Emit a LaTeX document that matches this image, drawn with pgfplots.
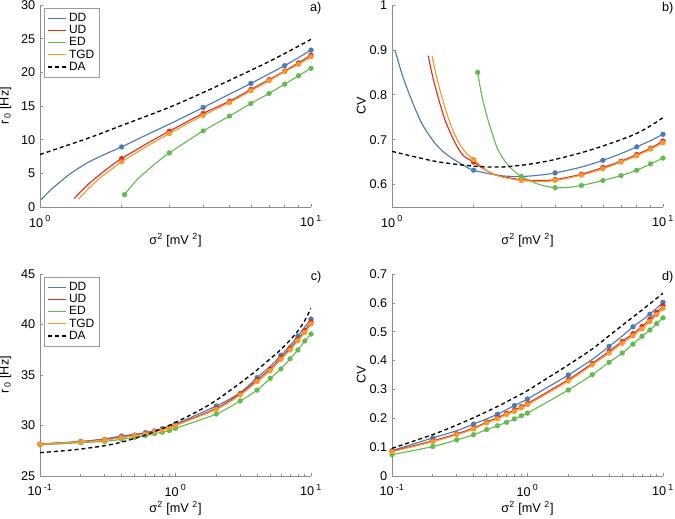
\documentclass[border=0pt]{standalone}
\usepackage{fontspec}
\setmainfont{Liberation Sans}
\usepackage{pgfplots}
\pgfplotsset{compat=1.18}
\definecolor{cDD}{RGB}{74,123,180}
\definecolor{cUD}{RGB}{222,45,38}
\definecolor{cED}{RGB}{99,187,80}
\definecolor{cTGD}{RGB}{247,152,40}
\pgfplotsset{
  every axis/.append style={
    scale only axis, width=203.25pt, height=151.5pt,
    xmode=log, axis x line=bottom, axis y line=left,
    axis line style={-, draw=black!45, line width=0.6pt},
    tick style={draw=black!45, line width=0.5pt},
    tick align=inside, major tick length=2.5pt, minor tick length=1.5pt,
    /pgf/number format/assume math mode=true,
    ticklabel style={font=\fontsize{9.5}{11}\selectfont, text=black},
    xticklabel style={yshift=-3pt},
    label style={font=\fontsize{9.5}{11}\selectfont},
    xlabel={σ\textsuperscript{2} [mV \textsuperscript{2}]},
    clip mode=individual,
    legend cell align=left,
    legend style={at={(0.015,0.985)}, anchor=north west,
      draw=black!40, line width=0.5pt, font=\fontsize{9}{10}\selectfont, inner sep=2pt,
      row sep=-2.7pt},
  },
  legend image code/.code={\draw[#1] (0pt,0pt) -- (13.5pt,0pt);},
  myln/.style={smooth, tension=0.5, line width=0.85pt, color=#1, mark=none},
  mymk/.style={only marks, mark=*, mark size=1.75pt, color=#1, mark options={solid, fill=#1, draw=#1}},
  myda/.style={smooth, tension=0.5, line width=1pt, black, dash pattern=on 3pt off 2.2pt, mark=none},
}
\newcommand{\plab}[1]{\node[anchor=north east, inner sep=0pt, font=\fontsize{9.5}{11}\selectfont, xshift=8pt, yshift=2pt] at (rel axis cs:1,1) {#1};}
\begin{document}
\begin{tikzpicture}
\useasboundingbox (-30pt,-233.25pt) rectangle (476.25pt,155.25pt);
% ---------------- a) ----------------
\begin{axis}[at={(0pt,0pt)}, anchor=south west,
  xmin=1, xmax=10, ymin=0, ymax=30, ytick={0,5,...,30},
  xtick={1,10}, xticklabels={10\,\textsuperscript{0},10\,\textsuperscript{1}},
  minor xtick={2,3,4,5,6,7,8,9},
  ylabel={r\,\textsubscript{0} [Hz]},
  xlabel style={at={(axis description cs:0.5,-0.165)}, anchor=center},
  ylabel style={at={(axis description cs:-0.128,0.5)}, anchor=center}]
\addlegendimage{color=cDD, line width=0.9pt, mark=none}
\addlegendimage{color=cUD, line width=0.9pt, mark=none}
\addlegendimage{color=cED, line width=0.9pt, mark=none}
\addlegendimage{color=cTGD, line width=0.9pt, mark=none}
\addlegendimage{color=black, line width=1pt, dash pattern=on 3pt off 2.2pt, mark=none}
\legend{DD,UD,ED,TGD,DA}
\addplot[myln=cDD, forget plot] coordinates {(1.01,1.1) (1.05,1.8) (1.1,2.6) (1.2,3.9) (1.3,5.0) (1.5,6.6) (1.75,7.9) (2,8.92) (2.5,10.8) (3,12.3) (4,14.78) (5,16.75) (6,18.35) (7,19.77) (8,21.0) (9,22.2) (10,23.3)};
\addplot[mymk=cDD, forget plot] coordinates {(2,8.92) (4,14.78) (6,18.35) (8,21.0) (10,23.3)};
\addplot[myln=cUD, forget plot] coordinates {(1.335,1.24) (1.4,2.1) (1.5,3.3) (1.65,4.7) (1.8,5.9) (2,7.19) (2.5,9.5) (3,11.25) (4,13.9) (5,15.7) (6,17.45) (7,18.9) (8,20.2) (9,21.4) (10,22.55)};
\addplot[mymk=cUD, forget plot] coordinates {(2,7.19) (3,11.25) (4,13.9) (5,15.7) (6,17.45) (7,18.9) (8,20.2) (9,21.4) (10,22.55)};
\addplot[myln=cED, forget plot] coordinates {(2.05,1.83) (2.15,2.9) (2.3,4.2) (2.5,5.5) (2.75,6.9) (3,8.03) (3.5,9.8) (4,11.3) (5,13.5) (6,15.37) (7,16.86) (8,18.25) (9,19.5) (10,20.6)};
\addplot[mymk=cED, forget plot] coordinates {(2.05,1.83) (3,8.03) (4,11.3) (5,13.5) (6,15.37) (7,16.86) (8,18.25) (9,19.5) (10,20.6)};
\addplot[myln=cTGD, forget plot] coordinates {(1.386,1.14) (1.45,2.0) (1.55,3.2) (1.7,4.6) (1.85,5.7) (2,6.7) (2.5,9.1) (3,10.9) (4,13.6) (5,15.5) (6,17.25) (7,18.75) (8,20.1) (9,21.2) (10,22.3)};
\addplot[mymk=cTGD, forget plot] coordinates {(2,6.7) (3,10.9) (4,13.6) (5,15.5) (6,17.25) (7,18.75) (8,20.1) (9,21.2) (10,22.3)};
\addplot[myda, forget plot] coordinates {(1,7.8) (1.5,10.2) (2,12.1) (3,14.8) (4,17.0) (5,18.8) (6,20.3) (7,21.6) (8,22.8) (9,23.9) (10,24.9)};
\plab{a)}
\end{axis}
% ---------------- b) ----------------
\begin{axis}[at={(264pt,0pt)}, anchor=south west,
  xmin=1, xmax=10, ymin=0.55, ymax=1, ytick={0.6,0.7,0.8,0.9,1},
  xtick={1,10}, xticklabels={10\,\textsuperscript{0},10\,\textsuperscript{1}},
  minor xtick={2,3,4,5,6,7,8,9},
  ylabel={CV},
  xlabel style={at={(axis description cs:0.5,-0.165)}, anchor=center},
  ylabel style={at={(axis description cs:-0.113,0.5)}, anchor=center}]
\addplot[myln=cDD] coordinates {(1.025,0.900) (1.1,0.838) (1.2,0.778) (1.3,0.732) (1.45,0.690) (1.6,0.666) (1.8,0.646) (2,0.632) (2.5,0.620) (3,0.618) (3.5,0.621) (4,0.626) (5,0.639) (6,0.654) (7,0.669) (8,0.684) (9,0.698) (10,0.712)};
\addplot[mymk=cDD] coordinates {(2,0.632) (4,0.626) (6,0.654) (8,0.684) (10,0.712)};
\addplot[myln=cUD] coordinates {(1.36,0.887) (1.42,0.835) (1.5,0.782) (1.566,0.745) (1.64,0.716) (1.72,0.690) (1.83,0.665) (2,0.650) (2.25,0.630) (2.5,0.619) (3,0.611) (3.5,0.609) (4,0.611) (5,0.623) (6,0.638) (7,0.652) (8,0.667) (9,0.681) (10,0.697)};
\addplot[mymk=cUD] coordinates {(2,0.650) (3,0.611) (4,0.611) (5,0.623) (6,0.638) (7,0.652) (8,0.667) (9,0.681) (10,0.697)};
\addplot[myln=cED] coordinates {(2.07,0.850) (2.15,0.795) (2.26,0.744) (2.32,0.722) (2.45,0.680) (2.64,0.648) (2.8,0.632) (3,0.618) (3.5,0.600) (4,0.593) (4.5,0.594) (5,0.598) (6,0.609) (7,0.620) (8,0.632) (9,0.646) (10,0.659)};
\addplot[mymk=cED] coordinates {(2.07,0.850) (3,0.618) (4,0.593) (5,0.598) (6,0.609) (7,0.620) (8,0.632) (9,0.646) (10,0.659)};
\addplot[myln=cTGD] coordinates {(1.405,0.887) (1.467,0.835) (1.55,0.782) (1.62,0.745) (1.69,0.716) (1.78,0.690) (1.89,0.668) (2,0.656) (2.25,0.630) (2.5,0.618) (3,0.609) (3.5,0.607) (4,0.609) (5,0.621) (6,0.635) (7,0.650) (8,0.664) (9,0.679) (10,0.693)};
\addplot[mymk=cTGD] coordinates {(2,0.656) (3,0.609) (4,0.609) (5,0.621) (6,0.635) (7,0.650) (8,0.664) (9,0.679) (10,0.693)};
\addplot[myda] coordinates {(1,0.674) (1.25,0.660) (1.5,0.650) (2,0.641) (2.5,0.639) (3,0.643) (3.5,0.649) (4,0.656) (5,0.671) (6,0.686) (7,0.700) (8,0.714) (9,0.731) (10,0.749)};
\plab{b)}
\end{axis}
% ---------------- c) ----------------
\begin{axis}[at={(0pt,-201.75pt)}, anchor=south west,
  xmin=0.1, xmax=10, ymin=25, ymax=45, ytick={25,30,...,45},
  xtick={0.1,1,10}, xticklabels={10\,\textsuperscript{-1},10\,\textsuperscript{0},10\,\textsuperscript{1}},
  minor xtick={0.2,0.3,0.4,0.5,0.6,0.7,0.8,0.9,2,3,4,5,6,7,8,9},
  ylabel={r\,\textsubscript{0} [Hz]},
  xlabel style={at={(axis description cs:0.5,-0.16)}, anchor=center},
  ylabel style={at={(axis description cs:-0.128,0.5)}, anchor=center}]
\addlegendimage{color=cDD, line width=0.9pt, mark=none}
\addlegendimage{color=cUD, line width=0.9pt, mark=none}
\addlegendimage{color=cED, line width=0.9pt, mark=none}
\addlegendimage{color=cTGD, line width=0.9pt, mark=none}
\addlegendimage{color=black, line width=1pt, dash pattern=on 3pt off 2.2pt, mark=none}
\legend{DD,UD,ED,TGD,DA}
\addplot[myln=cDD, forget plot] coordinates {(0.1,28.17) (0.2,28.42) (0.3,28.68) (0.4,28.96) (0.5,29.13) (0.6,29.3) (0.7,29.5) (0.8,29.7) (0.9,29.93) (1,30.15) (2,31.93) (3,33.25) (4,34.74) (5,35.85) (6,36.95) (7,37.9) (8,38.86) (9,39.75) (10,40.54)};
\addplot[mymk=cDD, forget plot] coordinates {(0.1,28.17) (0.2,28.42) (0.4,28.96) (0.6,29.3) (0.8,29.7) (1,30.15) (2,31.93) (4,34.74) (6,36.95) (8,38.86) (10,40.54)};
\addplot[myln=cUD, forget plot] coordinates {(0.1,28.15) (0.2,28.4) (0.3,28.6) (0.4,28.85) (0.5,29.05) (0.6,29.2) (0.7,29.45) (0.8,29.6) (0.9,29.85) (1,30.05) (2,31.7) (3,33.15) (4,34.5) (5,35.6) (6,36.7) (7,37.65) (8,38.55) (9,39.4) (10,40.25)};
\addplot[mymk=cUD, forget plot] coordinates {(0.1,28.15) (0.2,28.4) (0.3,28.6) (0.4,28.85) (0.5,29.05) (0.6,29.2) (0.7,29.45) (0.8,29.6) (0.9,29.85) (1,30.05) (2,31.7) (3,33.15) (4,34.5) (5,35.6) (6,36.7) (7,37.65) (8,38.55) (9,39.4) (10,40.25)};
\addplot[myln=cED, forget plot] coordinates {(0.1,28.08) (0.2,28.3) (0.3,28.43) (0.4,28.63) (0.5,28.83) (0.6,29.0) (0.7,29.2) (0.8,29.33) (0.9,29.5) (1,29.72) (2,31.14) (3,32.43) (4,33.5) (5,34.67) (6,35.6) (7,36.6) (8,37.48) (9,38.37) (10,39.06)};
\addplot[mymk=cED, forget plot] coordinates {(0.1,28.08) (0.2,28.3) (0.3,28.43) (0.4,28.63) (0.5,28.83) (0.6,29.0) (0.7,29.2) (0.8,29.33) (0.9,29.5) (1,29.72) (2,31.14) (3,32.43) (4,33.5) (5,34.67) (6,35.6) (7,36.6) (8,37.48) (9,38.37) (10,39.06)};
\addplot[myln=cTGD, forget plot] coordinates {(0.1,28.15) (0.2,28.38) (0.3,28.56) (0.4,28.8) (0.5,29.0) (0.6,29.16) (0.7,29.4) (0.8,29.55) (0.9,29.8) (1,30.0) (2,31.6) (3,33.02) (4,34.34) (5,35.43) (6,36.55) (7,37.48) (8,38.4) (9,39.22) (10,40.05)};
\addplot[mymk=cTGD, forget plot] coordinates {(0.1,28.15) (0.2,28.38) (0.3,28.56) (0.4,28.8) (0.5,29.0) (0.6,29.16) (0.7,29.4) (0.8,29.55) (0.9,29.8) (1,30.0) (2,31.6) (3,33.02) (4,34.34) (5,35.43) (6,36.55) (7,37.48) (8,38.4) (9,39.22) (10,40.05)};
\addplot[myda, forget plot] coordinates {(0.1,27.31) (0.15,27.5) (0.2,27.67) (0.3,28.0) (0.4,28.35) (0.5,28.73) (0.6,29.05) (0.7,29.4) (0.8,29.7) (0.9,30.0) (1,30.3) (1.5,31.5) (2,32.5) (3,34.2) (4,35.5) (5,36.6) (6,37.54) (7,38.45) (8,39.36) (9,40.4) (10,41.6)};
\plab{c)}
\end{axis}
% ---------------- d) ----------------
\begin{axis}[at={(264pt,-201.75pt)}, anchor=south west,
  xmin=0.1, xmax=10, ymin=0, ymax=0.7, ytick={0,0.1,...,0.7},
  xtick={0.1,1,10}, xticklabels={10\,\textsuperscript{-1},10\,\textsuperscript{0},10\,\textsuperscript{1}},
  minor xtick={0.2,0.3,0.4,0.5,0.6,0.7,0.8,0.9,2,3,4,5,6,7,8,9},
  ylabel={CV},
  xlabel style={at={(axis description cs:0.5,-0.16)}, anchor=center},
  ylabel style={at={(axis description cs:-0.113,0.5)}, anchor=center}]
\addplot[myln=cDD] coordinates {(0.1,0.088) (0.2,0.132) (0.3,0.157) (0.4,0.180) (0.5,0.198) (0.6,0.214) (0.7,0.230) (0.8,0.244) (0.9,0.256) (1,0.267) (2,0.350) (3,0.404) (4,0.449) (5,0.485) (6,0.517) (7,0.540) (8,0.561) (9,0.582) (10,0.602)};
\addplot[mymk=cDD] coordinates {(0.1,0.088) (0.2,0.132) (0.4,0.180) (0.6,0.214) (0.8,0.244) (1,0.267) (2,0.350) (4,0.449) (6,0.517) (8,0.561) (10,0.602)};
\addplot[myln=cUD] coordinates {(0.1,0.086) (0.2,0.122) (0.3,0.146) (0.4,0.166) (0.5,0.187) (0.6,0.202) (0.7,0.217) (0.8,0.228) (0.9,0.240) (1,0.251) (2,0.334) (3,0.390) (4,0.432) (5,0.466) (6,0.493) (7,0.518) (8,0.543) (9,0.567) (10,0.590)};
\addplot[mymk=cUD] coordinates {(0.1,0.086) (0.2,0.122) (0.3,0.146) (0.4,0.166) (0.5,0.187) (0.6,0.202) (0.7,0.217) (0.8,0.228) (0.9,0.240) (1,0.251) (2,0.334) (3,0.390) (4,0.432) (5,0.466) (6,0.493) (7,0.518) (8,0.543) (9,0.567) (10,0.590)};
\addplot[myln=cED] coordinates {(0.1,0.074) (0.2,0.102) (0.3,0.125) (0.4,0.143) (0.5,0.161) (0.6,0.174) (0.7,0.186) (0.8,0.198) (0.9,0.209) (1,0.218) (2,0.298) (3,0.351) (4,0.394) (5,0.426) (6,0.457) (7,0.484) (8,0.506) (9,0.528) (10,0.548)};
\addplot[mymk=cED] coordinates {(0.1,0.074) (0.2,0.102) (0.3,0.125) (0.4,0.143) (0.5,0.161) (0.6,0.174) (0.7,0.186) (0.8,0.198) (0.9,0.209) (1,0.218) (2,0.298) (3,0.351) (4,0.394) (5,0.426) (6,0.457) (7,0.484) (8,0.506) (9,0.528) (10,0.548)};
\addplot[myln=cTGD] coordinates {(0.1,0.084) (0.2,0.119) (0.3,0.143) (0.4,0.163) (0.5,0.184) (0.6,0.198) (0.7,0.213) (0.8,0.224) (0.9,0.236) (1,0.247) (2,0.329) (3,0.385) (4,0.426) (5,0.460) (6,0.486) (7,0.510) (8,0.535) (9,0.559) (10,0.581)};
\addplot[mymk=cTGD] coordinates {(0.1,0.084) (0.2,0.119) (0.3,0.143) (0.4,0.163) (0.5,0.184) (0.6,0.198) (0.7,0.213) (0.8,0.224) (0.9,0.236) (1,0.247) (2,0.329) (3,0.385) (4,0.426) (5,0.460) (6,0.486) (7,0.510) (8,0.535) (9,0.559) (10,0.581)};
\addplot[myda] coordinates {(0.1,0.096) (0.2,0.1436) (0.3,0.1764) (0.4,0.202) (0.5,0.223) (0.6,0.241) (0.7,0.257) (0.8,0.271) (0.9,0.284) (1,0.296) (2,0.385) (3,0.440) (4,0.486) (5,0.522) (6,0.551) (7,0.575) (8,0.597) (9,0.616) (10,0.634)};
\plab{d)}
\end{axis}
\end{tikzpicture}
\end{document}
